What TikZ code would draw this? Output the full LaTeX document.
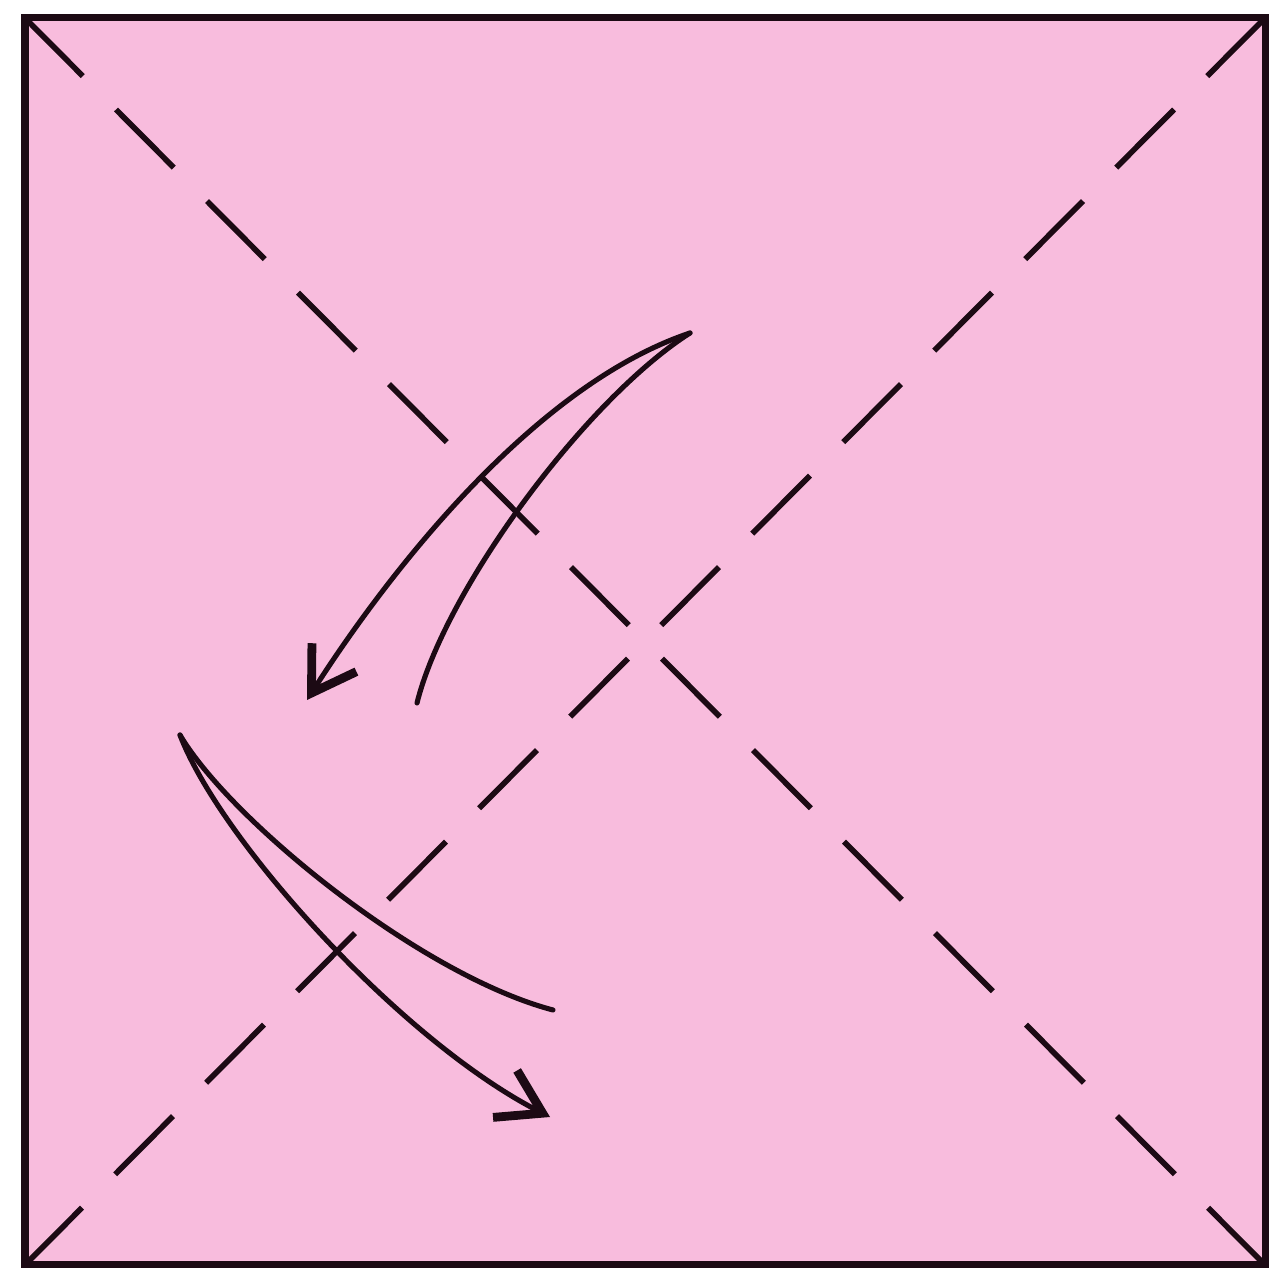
\documentclass[tikz,border=0pt]{standalone}
\definecolor{paper}{RGB}{248, 188, 221}
\definecolor{ink}{RGB}{28, 10, 20}
\usepackage{tikz}
\usetikzlibrary{arrows.meta, positioning}

\begin{document}
\begin{tikzpicture}[x=0.01cm, y=-0.01cm,
    foldline/.style={ink, line width=1.6pt, dash pattern=on 23.3pt off 13.4pt},
    movearrow/.style={ink, line width=1.45pt, line cap=round,
        -{Straight Barb[length=12pt, width=15pt, line width=2.5pt]}},
    movetail/.style={ink, line width=1.45pt, line cap=round}]
                \useasboundingbox (0,0) rectangle (1273,1268);

                % Paper square
                \coordinate (tl) at (25,18);
                \coordinate (tr) at (1265,18);
                \coordinate (br) at (1265,1265);
                \coordinate (bl) at (25,1265);
                \draw[ink, line width=2pt, fill=paper] (tl) -- (tr) -- (br) -- (bl) -- cycle;

                % Diagonal folds
                \draw[foldline] (tl) -- (br);
                \draw[foldline] (tr) -- (bl);

                % Upper arrow
                \coordinate (upStart) at (690,333);
                \coordinate (upHead) at (307,700);
                \coordinate (upTail) at (417,703);
                \draw[movearrow] (upStart) .. controls (535,385) and (390,570) .. (upHead);
                \draw[movetail] (upStart) .. controls (585,400) and (445,590) .. (upTail);

                % Lower arrow
                \coordinate (lowStart) at (180,735);
                \coordinate (lowHead) at (550,1117);
                \coordinate (lowTail) at (553,1010);
                \draw[movearrow] (lowStart) .. controls (220,840) and (400,1040) .. (lowHead);
                \draw[movetail] (lowStart) .. controls (230,820) and (420,975) .. (lowTail);
            \end{tikzpicture}
\end{document}
